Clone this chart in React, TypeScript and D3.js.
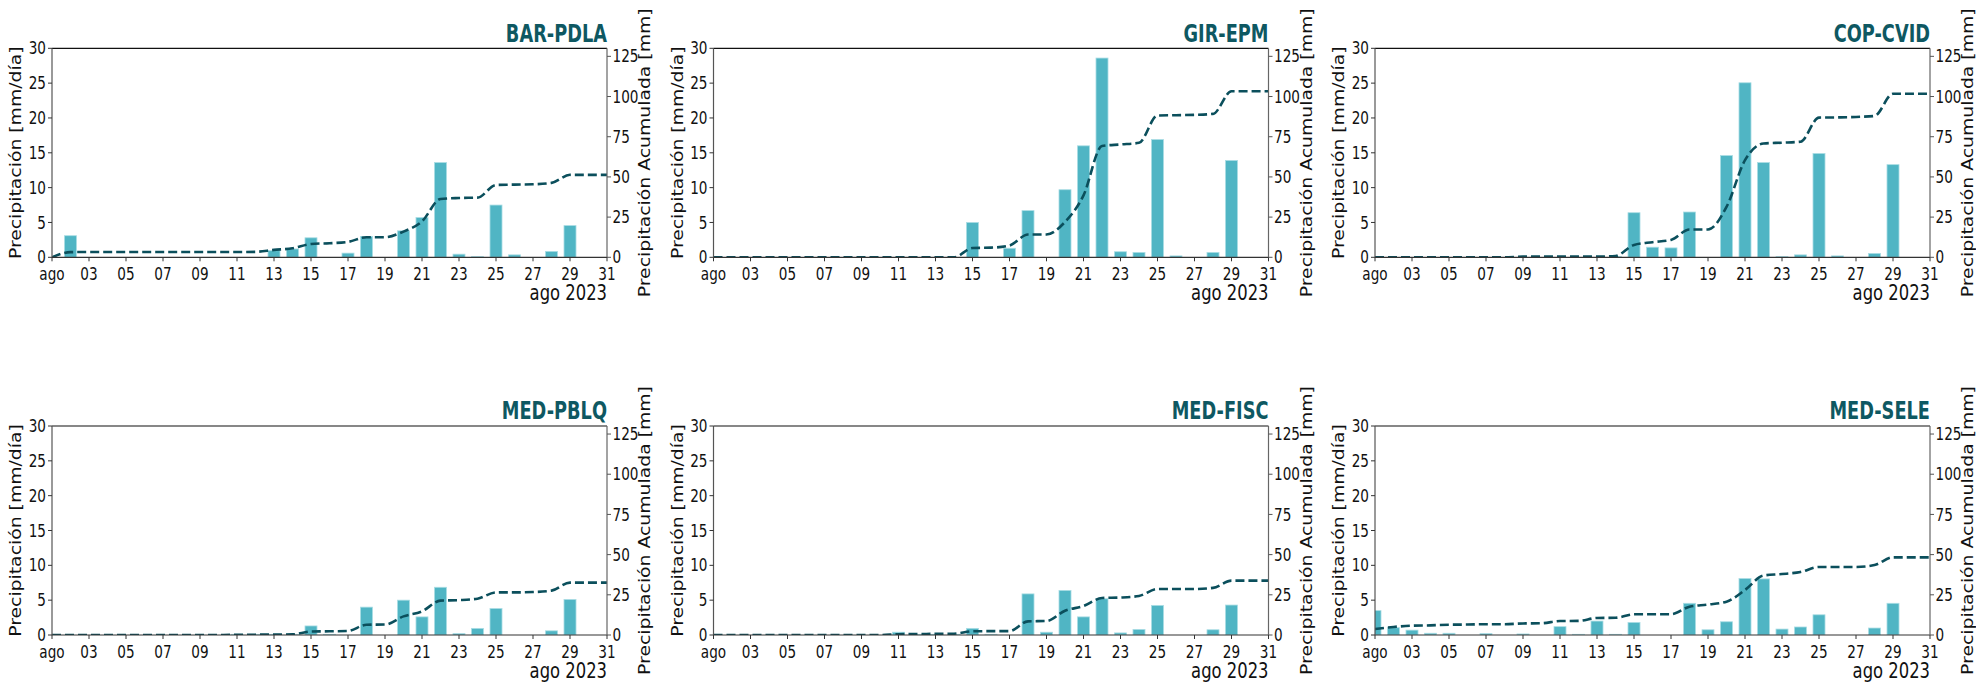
import { useEffect, useRef } from "react";
import * as d3 from "d3";

// days of August 2023
const days = [1, 2, 3, 4, 5, 6, 7, 8, 9, 10, 11, 12, 13, 14, 15, 16, 17, 18, 19, 20, 21, 22, 23, 24, 25, 26, 27, 28, 29, 30, 31];
const tickDays = [1, 3, 5, 7, 9, 11, 13, 15, 17, 19, 21, 23, 25, 27, 29, 31];
const tickLabels = ["ago", "03", "05", "07", "09", "11", "13", "15", "17", "19", "21", "23", "25", "27", "29", "31"];
const leftTicks = [0, 5, 10, 15, 20, 25, 30];
const rightTicks = [0, 25, 50, 75, 100, 125];

const stations = ["BAR-PDLA", "GIR-EPM", "COP-CVID", "MED-PBLQ", "MED-FISC", "MED-SELE"];

// daily rain [mm/día]
const barPdlaRain = [0, 3.1, 0, 0, 0, 0, 0, 0, 0, 0, 0, 0, 0.95, 1.2, 2.8, 0, 0.6, 3.0, 0, 3.8, 5.7, 13.6, 0.45, 0.1, 7.5, 0.35, 0, 0.85, 4.55, 0, 0];
const girEpmRain = [0, 0, 0, 0, 0, 0, 0, 0, 0, 0, 0, 0, 0, 0, 5.0, 0, 1.3, 6.7, 0, 9.7, 16.0, 28.6, 0.8, 0.7, 16.9, 0.2, 0, 0.7, 13.9, 0, 0];
const copCvidRain = [0, 0, 0, 0, 0, 0, 0, 0, 0, 0, 0, 0, 0, 0.1, 6.4, 1.45, 1.35, 6.5, 0, 14.6, 25.05, 13.6, 0.1, 0.35, 14.9, 0.2, 0, 0.55, 13.3, 0, 0];
const medPblqRain = [0, 0, 0, 0, 0, 0, 0, 0, 0, 0, 0.1, 0.1, 0.1, 0.1, 1.3, 0.1, 0, 4.0, 0, 5.0, 2.6, 6.85, 0.2, 0.95, 3.8, 0, 0, 0.6, 5.1, 0, 0];
const medFiscRain = [0, 0, 0, 0, 0, 0, 0, 0, 0, 0, 0.4, 0.1, 0.1, 0.1, 0.95, 0.1, 0, 5.9, 0.4, 6.4, 2.6, 5.2, 0.3, 0.8, 4.25, 0, 0, 0.75, 4.3, 0, 0];
const medSeleRain = [3.5, 1.05, 0.7, 0.25, 0.25, 0, 0.2, 0, 0.15, 0, 1.2, 0.1, 2.0, 0.1, 1.8, 0, 0, 4.55, 0.75, 1.9, 8.1, 8.05, 0.85, 1.15, 2.9, 0, 0, 1.0, 4.55, 0, 0];

// accumulated rain [mm]
const barPdlaCum = [0, 3.2, 3.3, 3.3, 3.3, 3.3, 3.3, 3.3, 3.3, 3.3, 3.3, 3.4, 4.6, 5.6, 8.3, 8.75, 9.6, 12.5, 12.5, 16.0, 22.3, 36.3, 36.9, 37.1, 45.0, 45.2, 45.4, 46.3, 51.3, 51.3, 51.3];
const girEpmCum = [0, 0, 0, 0, 0, 0, 0, 0, 0, 0, 0, 0, 0, 0, 5.8, 6.0, 7.3, 14.2, 14.2, 22.0, 38.5, 69.2, 70.2, 71.2, 88.2, 88.4, 88.6, 89.2, 103.3, 103.3, 103.3];
const copCvidCum = [0, 0, 0, 0, 0, 0, 0, 0, 0.4, 0.4, 0.4, 0.4, 0.4, 0.8, 7.7, 9.4, 10.8, 17.3, 17.3, 31.3, 60.4, 70.8, 71.3, 71.9, 86.9, 87.0, 87.3, 87.9, 101.7, 101.7, 101.7];
const medPblqCum = [0, 0, 0, 0, 0, 0, 0, 0, 0, 0, 0.1, 0.2, 0.3, 0.4, 2.2, 2.3, 2.5, 6.4, 6.5, 11.6, 14.7, 21.4, 21.7, 22.6, 26.5, 26.5, 26.7, 27.6, 32.6, 32.6, 32.6];
const medFiscCum = [0, 0, 0, 0, 0, 0, 0, 0, 0, 0, 0.5, 0.6, 0.7, 0.8, 2.3, 2.4, 2.4, 8.5, 8.7, 15.1, 18.0, 23.0, 23.3, 24.3, 28.6, 28.6, 28.6, 29.3, 33.8, 33.8, 33.8];
const medSeleCum = [3.7, 5.0, 5.8, 6.0, 6.4, 6.5, 6.7, 6.7, 7.2, 7.3, 8.7, 8.8, 10.6, 10.7, 12.9, 12.9, 12.9, 17.6, 18.9, 20.7, 28.0, 37.0, 37.9, 39.2, 42.3, 42.3, 42.3, 43.5, 48.3, 48.3, 48.3];

const rainSeries = [barPdlaRain, girEpmRain, copCvidRain, medPblqRain, medFiscRain, medSeleRain];
const cumSeries = [barPdlaCum, girEpmCum, copCvidCum, medPblqCum, medFiscCum, medSeleCum];

const W = 1976;
const H = 682;
const K = 0.8; // horizontal squeeze of the original figure
const FONT = "DejaVu Sans";

export default function App() {
  const svgRef = useRef<SVGSVGElement | null>(null);

  useEffect(() => {
    if (!svgRef.current) return;
    const svg = d3.select(svgRef.current);
    svg.selectAll("*").remove();

    const plotW = 555;
    const plotH = 209;
    const lefts = [52, 713.5, 1375];
    const tops = [48.3, 426];

    const x = d3.scaleLinear().domain([1, 31]).range([0, plotW]);
    const yL = d3.scaleLinear().domain([0, 30]).range([plotH, 0]);
    const yR = d3.scaleLinear().domain([0, 130]).range([plotH, 0]);
    const bw = (x(2) - x(1)) * 0.65;

    const squeeze = (tx: number, ty: number, k = K) => `translate(${tx},${ty}) scale(${k},1)`;

    stations.forEach((name, i) => {
      const rain = rainSeries[i];
      const cum = cumSeries[i];
      const g = svg
        .append("g")
        .attr("transform", `translate(${lefts[i % 3]},${tops[Math.floor(i / 3)]})`);

      const clipId = `clip-${i}`;
      g.append("clipPath").attr("id", clipId).append("rect").attr("width", plotW).attr("height", plotH);

      // bars
      g.append("g")
        .attr("clip-path", `url(#${clipId})`)
        .selectAll("rect")
        .data(days.map((d, j) => ({ d, v: rain[j] })).filter(p => p.v > 0))
        .enter()
        .append("rect")
        .attr("x", p => x(p.d) - bw / 2)
        .attr("y", p => yL(p.v))
        .attr("width", bw)
        .attr("height", p => plotH - yL(p.v))
        .attr("fill", "#50b5c4")
        .attr("stroke", "#aadde4")
        .attr("stroke-width", 0.8);

      // accumulated line
      const line = d3
        .line<number>()
        .x((_, j) => x(days[j]))
        .y(v => yR(v))
        .curve(d3.curveMonotoneX);
      g.append("path")
        .attr("clip-path", `url(#${clipId})`)
        .attr("d", line(cum) ?? "")
        .attr("fill", "none")
        .attr("stroke", "#0b4f5c")
        .attr("stroke-width", 2.6)
        .attr("stroke-dasharray", "9,4");

      // spines
      g.append("line").attr("x1", 0).attr("x2", plotW).attr("y1", 0).attr("y2", 0).attr("stroke", "#111").attr("stroke-width", 1.2);
      g.append("line").attr("x1", 0).attr("x2", plotW).attr("y1", plotH).attr("y2", plotH).attr("stroke", "#333").attr("stroke-width", 1.2);
      g.append("line").attr("x1", 0).attr("x2", 0).attr("y1", 0).attr("y2", plotH).attr("stroke", "#555").attr("stroke-width", 1.2);
      g.append("line").attr("x1", plotW).attr("x2", plotW).attr("y1", 0).attr("y2", plotH).attr("stroke", "#666").attr("stroke-width", 1.2);

      // left ticks
      leftTicks.forEach(t => {
        g.append("line").attr("x1", -4).attr("x2", 0).attr("y1", yL(t)).attr("y2", yL(t)).attr("stroke", "#333");
        g.append("text")
          .attr("transform", squeeze(-6, yL(t)))
          .attr("dy", "0.36em")
          .attr("text-anchor", "end")
          .attr("font-family", FONT)
          .attr("font-size", 17)
          .attr("fill", "#111")
          .text(String(t));
      });

      // right ticks
      rightTicks.forEach(t => {
        g.append("line").attr("x1", plotW).attr("x2", plotW + 4).attr("y1", yR(t)).attr("y2", yR(t)).attr("stroke", "#555");
        g.append("text")
          .attr("transform", squeeze(plotW + 5.5, yR(t)))
          .attr("dy", "0.36em")
          .attr("text-anchor", "start")
          .attr("font-family", FONT)
          .attr("font-size", 17)
          .attr("fill", "#111")
          .text(String(t));
      });

      // x ticks
      tickDays.forEach((d, j) => {
        g.append("line").attr("x1", x(d)).attr("x2", x(d)).attr("y1", plotH).attr("y2", plotH + 4).attr("stroke", "#333");
        g.append("text")
          .attr("transform", squeeze(x(d), plotH + 22.5))
          .attr("text-anchor", "middle")
          .attr("font-family", FONT)
          .attr("font-size", 17)
          .attr("fill", "#111")
          .text(tickLabels[j]);
      });

      g.append("text")
        .attr("transform", squeeze(plotW, plotH + 43))
        .attr("text-anchor", "end")
        .attr("font-family", FONT)
        .attr("font-size", 20.5)
        .attr("fill", "#111")
        .text("ago 2023");

      // title
      g.append("text")
        .attr("transform", squeeze(plotW, -6.6, 0.74))
        .attr("text-anchor", "end")
        .attr("font-family", FONT)
        .attr("font-weight", "bold")
        .attr("font-size", 24)
        .attr("fill", "#0e5862")
        .text(name);

      // axis labels
      g.append("text")
        .attr("transform", `${squeeze(-36, plotH / 2)} rotate(-90)`)
        .attr("dy", "0.36em")
        .attr("text-anchor", "middle")
        .attr("font-family", FONT)
        .attr("font-size", 18.8)
        .attr("fill", "#111")
        .text("Precipitación [mm/día]");
      g.append("text")
        .attr("transform", `${squeeze(plotW + 38, plotH / 2)} rotate(-90)`)
        .attr("dy", "0.36em")
        .attr("text-anchor", "middle")
        .attr("font-family", FONT)
        .attr("font-size", 18.8)
        .attr("fill", "#111")
        .text("Precipitación Acumulada [mm]");
    });
  }, []);

  return (
    <svg
      ref={svgRef}
      width={W}
      height={H}
      style={{ position: "absolute", left: 0, top: 0, background: "#fff" }}
    />
  );
}
